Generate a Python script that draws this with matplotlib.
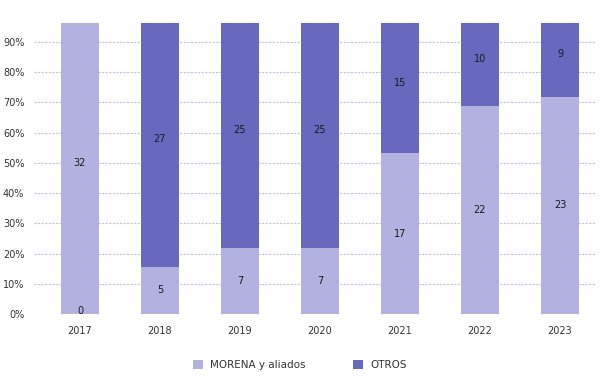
import matplotlib
matplotlib.use("Agg")
import matplotlib.pyplot as plt
from matplotlib.ticker import PercentFormatter

years = ["2017", "2018", "2019", "2020", "2021", "2022", "2023"]
morena = [32, 5, 7, 7, 17, 22, 23]
otros = [0, 27, 25, 25, 15, 10, 9]

c_morena = "#b3b1e0"
c_otros = "#6868be"

fig = plt.figure(figsize=(6, 3.77), dpi=100)
ax = fig.add_axes([34/600, 1-314/377, (596-34)/600, (314-23)/377])

x = list(range(len(years)))
tot = [m + o for m, o in zip(morena, otros)]
pm = [m / t for m, t in zip(morena, tot)]
po = [o / t for o, t in zip(otros, tot)]

ax.bar(x, pm, width=0.475, color=c_morena, label="MORENA y aliados", zorder=2)
ax.bar(x, po, width=0.475, bottom=pm, color=c_otros, label="OTROS", zorder=2)

for i in x:
    if morena[i] > 0:
        ax.text(i, pm[i] / 2, str(morena[i]), ha="center", va="center", fontsize=7, color="#1a1a1a", zorder=3)
    if otros[i] > 0:
        ax.text(i, pm[i] + po[i] / 2, str(otros[i]), ha="center", va="center", fontsize=7, color="#1a1a1a", zorder=3)
    else:
        ax.text(i, 0.01, str(otros[i]), ha="center", va="center", fontsize=7, color="#1a1a1a", zorder=3)

ax.set_ylim(0, 0.963)
ax.set_xlim(-0.575, 6.45)
ax.set_yticks([i / 10 for i in range(10)])
ax.yaxis.set_major_formatter(PercentFormatter(1.0, decimals=0))
ax.set_xticks(x)
ax.set_xticklabels(years)
ax.tick_params(axis="both", length=0, labelsize=7, colors="#333333")
ax.tick_params(axis="x", pad=9)
ax.tick_params(axis="y", pad=7)
for s in ax.spines.values():
    s.set_visible(False)
ax.yaxis.grid(True, color="#c4c2d8", linestyle=(0, (2, 1.2)), linewidth=0.8, zorder=0)
ax.set_axisbelow(True)

fig.legend(loc="center", bbox_to_anchor=(0.5, 1-365/377), ncol=2, frameon=False,
           fontsize=7.5, handlelength=0.95, handleheight=0.95, columnspacing=4.6,
           handletextpad=0.7, labelcolor="#333333")

fig.savefig("out.png", dpi=100)
